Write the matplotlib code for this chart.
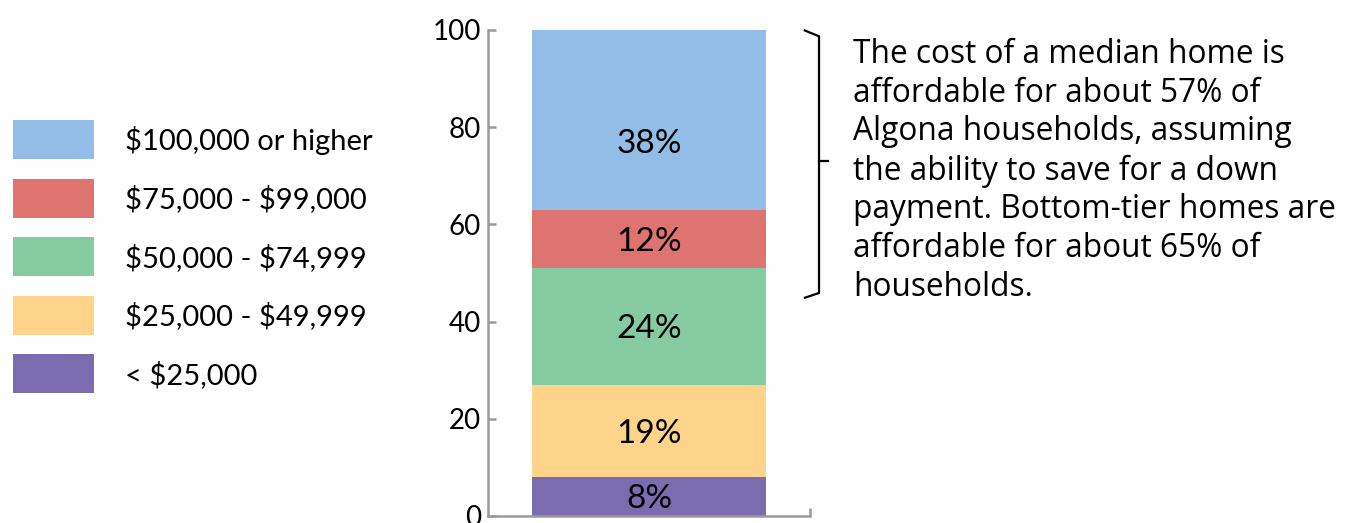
import matplotlib.pyplot as plt
from matplotlib.lines import Line2D
from matplotlib.patches import Rectangle

categories = ["< $25,000", "$25,000 - $49,999", "$50,000 - $74,999",
              "$75,000 - $99,000", "$100,000 or higher"]
shares = [8, 19, 24, 12, 38]
colors = ["#7B6CB0", "#FED48A", "#86CAA2", "#DE7470", "#93BDE6"]
note = ("The cost of a median home is\naffordable for about 57% of\n"
        "Algona households, assuming\nthe ability to save for a down\n"
        "payment. Bottom-tier homes are\naffordable for about 65% of\nhouseholds.")

plt.rcParams["font.family"] = ["Lato", "DejaVu Sans"]
plt.rcParams["text.parse_math"] = False
W, H = 1349, 523
fig = plt.figure(figsize=(W / 100, H / 100), dpi=100)
ax = fig.add_axes([488 / W, 1 - 516 / H, 322 / W, 486 / H])

gray = "#9a9a9a"
bottom = 0
for cat, val, col in zip(categories, shares, colors):
    ax.bar(0, val, bottom=bottom, width=0.724, color=col, linewidth=0)
    top = min(bottom + val, 100)
    # top label sits a bit low in the original
    ypos = (bottom + top) / 2 if top < 100 else bottom + (top - bottom) * 0.38
    ax.text(0, ypos - 0.6, f"{val}%", ha="center", va="center",
            fontsize=24, color="black")
    bottom += val

ax.set_xlim(-0.5, 0.5)
ax.set_ylim(0, 100)
ax.set_yticks([0, 20, 40, 60, 80, 100])
ax.set_xticks([0.5])
ax.set_xticklabels([])
for s in ["top", "right"]:
    ax.spines[s].set_visible(False)
for s in ["left", "bottom"]:
    ax.spines[s].set_color(gray)
    ax.spines[s].set_linewidth(1.8)
ax.tick_params(axis="both", direction="in", color=gray, width=1.8,
               length=6, labelsize=20, pad=5)

# bracket
bx0, bx1, bx2 = 0.484, 0.528, 0.556
lo, hi = 45.5, 99.5
ax.add_line(Line2D([bx0, bx1, bx1, bx0], [hi + 0.4, hi - 0.8, lo + 0.4, lo - 0.6],
                   color="black", linewidth=1.6, clip_on=False))
ax.add_line(Line2D([bx1, bx2], [(lo + hi) / 2 + 0.6] * 2, color="black",
                   linewidth=1.6, clip_on=False))
fig.text(853 / W, 1 - 38 / H, note, ha="left", va="top", fontsize=22.8,
         linespacing=1.23, family=["Open Sans", "DejaVu Sans"])

# legend
for i, (cat, col) in enumerate(zip(categories[::-1], colors[::-1])):
    yc = 139.5 + i * 58.6
    fig.patches.append(Rectangle((13 / W, 1 - (yc + 19.5) / H), 81 / W, 39 / H,
                                 transform=fig.transFigure, color=col, linewidth=0))
    fig.text(125 / W, 1 - (yc + 1) / H, cat, ha="left", va="center", fontsize=21)

fig.savefig("out.png", dpi=100)
